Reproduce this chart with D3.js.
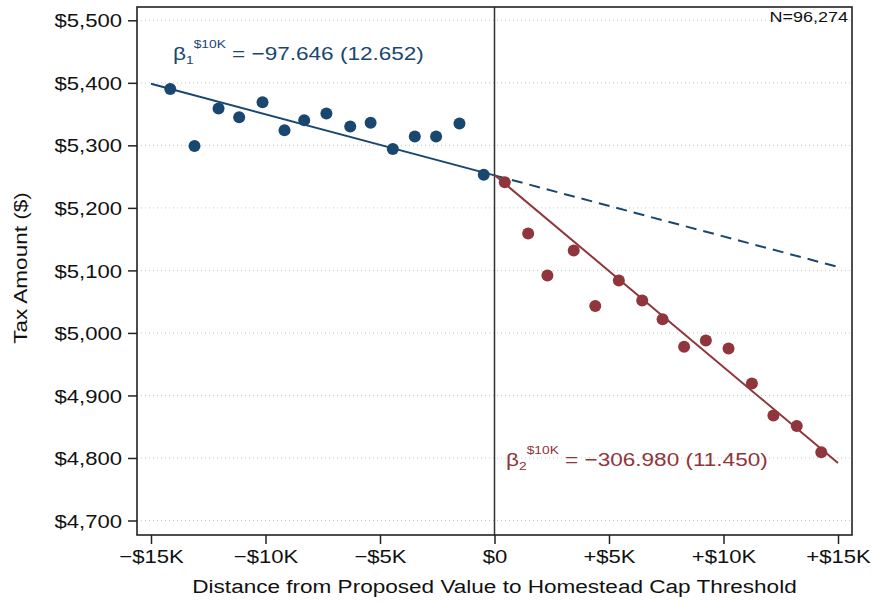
<!DOCTYPE html>
<html>
<head>
<meta charset="utf-8">
<script src="https://cdn.jsdelivr.net/npm/d3@7"></script>
<style>
  html, body { margin: 0; padding: 0; background: #fff; }
  svg { display: block; }
  text { font-family: "Liberation Sans", Arial, Helvetica, sans-serif; }
</style>
</head>
<body>
<svg id="chart" width="873" height="602"></svg>
<script>
// Binned means left of the threshold (distance in $K, tax amount in $)
const belowX = [-14.16, -13.10, -12.05, -11.15, -10.13, -9.17, -8.31, -7.34, -6.30, -5.41, -4.44, -3.48, -2.55, -1.53, -0.47];
const belowY = [5390, 5299, 5359, 5345, 5369, 5324, 5340, 5351, 5330, 5336, 5294, 5314, 5314, 5335, 5253];

// Binned means right of the threshold
const aboveX = [0.45, 1.47, 2.31, 3.46, 4.40, 5.43, 6.45, 7.34, 8.28, 9.23, 10.22, 11.24, 12.18, 13.20, 14.27];
const aboveY = [5241, 5159, 5092, 5132, 5043, 5084, 5052, 5022, 4978, 4988, 4975, 4919, 4868, 4851, 4809];

// Fitted lines: slope per $10K and intercept at the threshold
const beta1 = -97.646, se1 = 12.652, icept1 = 5252;
const beta2 = -306.980, se2 = 11.450, icept2 = 5252.5;

const yTicks = [4700, 4800, 4900, 5000, 5100, 5200, 5300, 5400, 5500];
const xTicks = [-15, -10, -5, 0, 5, 10, 15];
const xTickLabels = ["\u2212$15K", "\u2212$10K", "\u2212$5K", "$0", "+$5K", "+$10K", "+$15K"];
const sampleLabel = "N=96,274";

const navy = "#1a476f", maroon = "#90353b";
const SX = 1.2; // horizontal text stretch
const tickFont = 18.4;
const labelFont = 18.8;

const svg = d3.select("#chart");
const plot = { left: 137, right: 852, top: 7, bottom: 535 };

const x = d3.scaleLinear().domain([-15, 15]).range([151, 838]);
const y = d3.scaleLinear().domain([4700, 5500]).range([520.5, 20.3]);

// Dotted horizontal gridlines
svg.append("g").selectAll("line").data(yTicks).join("line")
  .attr("x1", plot.left).attr("x2", plot.right)
  .attr("y1", d => y(d)).attr("y2", d => y(d))
  .attr("stroke", "#c8c8c8").attr("stroke-width", 1)
  .attr("stroke-dasharray", "1,3");

// Threshold line
svg.append("line")
  .attr("x1", x(0)).attr("x2", x(0))
  .attr("y1", plot.top).attr("y2", plot.bottom)
  .attr("stroke", "#333").attr("stroke-width", 1.5);

// Fit lines
const fit = (b, a) => k => a + b * k / 10;
const line = d3.line().x(d => x(d[0])).y(d => y(d[1]));
const f1 = fit(beta1, icept1), f2 = fit(beta2, icept2);

svg.append("path").datum([[-15, f1(-15)], [0, f1(0)]])
  .attr("d", line).attr("fill", "none").attr("stroke", navy).attr("stroke-width", 2);
svg.append("path").datum([[0, f1(0)], [15, f1(15)]])
  .attr("d", line).attr("fill", "none").attr("stroke", navy).attr("stroke-width", 2)
  .attr("stroke-dasharray", "11,7");
svg.append("path").datum([[0, f2(0)], [15, f2(15)]])
  .attr("d", line).attr("fill", "none").attr("stroke", maroon).attr("stroke-width", 2);

// Points
svg.append("g").selectAll("circle").data(d3.zip(belowX, belowY)).join("circle")
  .attr("cx", d => x(d[0])).attr("cy", d => y(d[1])).attr("r", 6).attr("fill", navy);
svg.append("g").selectAll("circle").data(d3.zip(aboveX, aboveY)).join("circle")
  .attr("cx", d => x(d[0])).attr("cy", d => y(d[1])).attr("r", 6).attr("fill", maroon);

// Frame
svg.append("rect")
  .attr("x", plot.left).attr("y", plot.top)
  .attr("width", plot.right - plot.left).attr("height", plot.bottom - plot.top)
  .attr("fill", "none").attr("stroke", "#222").attr("stroke-width", 1.6);

// Axes
const yAxis = svg.append("g").attr("transform", `translate(${plot.left},0)`)
  .call(d3.axisLeft(y).tickValues(yTicks).tickFormat(d3.format("$,")).tickSize(9).tickPadding(6));
const xAxis = svg.append("g").attr("transform", `translate(0,${plot.bottom})`)
  .call(d3.axisBottom(x).tickValues(xTicks).tickFormat((d, i) => xTickLabels[i]).tickSize(9).tickPadding(5.5));

[yAxis, xAxis].forEach(g => {
  g.select(".domain").remove();
  g.selectAll(".tick line").attr("stroke", "#222").attr("stroke-width", 1.5);
  g.selectAll(".tick text")
    .attr("font-family", "Liberation Sans, Arial, sans-serif")
    .attr("font-size", tickFont).attr("fill", "#111");
});
yAxis.selectAll(".tick text").attr("x", 0).attr("dy", "0.36em")
  .attr("transform", `translate(-15,0) scale(${SX},1)`);
xAxis.selectAll(".tick text").attr("transform", `scale(${SX},1)`);

// Axis titles
svg.append("text")
  .attr("transform", `translate(27,268) rotate(-90) scale(${SX},1)`)
  .attr("text-anchor", "middle").attr("font-size", labelFont).attr("fill", "#111")
  .text("Tax Amount ($)");
svg.append("text")
  .attr("transform", `translate(${(plot.left + plot.right) / 2},593) scale(${SX},1)`)
  .attr("text-anchor", "middle").attr("font-size", labelFont).attr("fill", "#111")
  .text("Distance from Proposed Value to Homestead Cap Threshold");

// Sample size
svg.append("text")
  .attr("transform", `translate(848,21.5) scale(${SX},1)`)
  .attr("text-anchor", "end").attr("font-size", 15).attr("fill", "#111")
  .text(sampleLabel);

// Coefficient labels
function coefLabel(px, py, idx, beta, se, color) {
  const t = svg.append("text")
    .attr("transform", `translate(${px},${py}) scale(${SX},1)`)
    .attr("fill", color).attr("font-size", labelFont);
  t.append("tspan").text("\u03b2");
  t.append("tspan").attr("font-size", 11.5).attr("dy", 4).text(idx);
  t.append("tspan").attr("font-size", 11.5).attr("dy", -16).text("$10K");
  t.append("tspan").attr("dy", 12)
    .text(" = \u2212" + d3.format(".3f")(Math.abs(beta)) + " (" + d3.format(".3f")(se) + ")");
}
coefLabel(173, 60, "1", beta1, se1, navy);
coefLabel(506, 466, "2", beta2, se2, maroon);
</script>
</body>
</html>
